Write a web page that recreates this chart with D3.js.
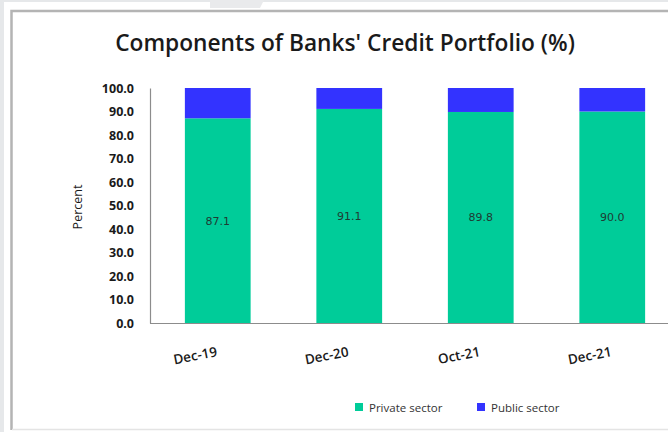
<!DOCTYPE html>
<html>
<head>
<meta charset="utf-8">
<script src="https://cdn.jsdelivr.net/npm/d3@7"></script>
<style>
  html, body { margin: 0; padding: 0; background: #e6e8ea; }
  svg { display: block; }
</style>
</head>
<body>
<svg id="chart" width="668" height="432"></svg>
<script>
// Share of banks' credit by ownership (%)
const periods = ["Dec-19", "Dec-20", "Oct-21", "Dec-21"];
const privateSector = [87.1, 91.1, 89.8, 90.0];
const publicSector = [12.9, 8.9, 10.2, 10.0];
const yTicks = [0, 10, 20, 30, 40, 50, 60, 70, 80, 90, 100];
const seriesNames = ["Private sector", "Public sector"];
const seriesColors = ["#00cc99", "#3333ff"];

const svg = d3.select("#chart");
const W = 668, H = 432;
const font = "'Open Sans', 'Liberation Sans', sans-serif";

// page backdrop and framed panel
svg.append("rect").attr("x", 4).attr("y", 2).attr("width", W).attr("height", H).attr("fill", "#ffffff");
svg.append("path")
  .attr("d", `M${W},11 L11.5,11 L11.5,${H - 2}`)
  .attr("fill", "none").attr("stroke", "#b4b4b4").attr("stroke-width", 2.5);
svg.append("line").attr("x1", 12).attr("x2", W).attr("y1", H - 2.5).attr("y2", H - 2.5)
  .attr("stroke", "#e4e4e4").attr("stroke-width", 1.5);
svg.append("path").attr("d", "M210,0 L264,0 L260,8 L210,8 Z").attr("fill", "#e9eaec");

const margin = { left: 150, top: 88, bottom: 323 };
const x = d3.scaleBand().domain(periods).range([152, 152 + 4 * 131.5]).paddingInner(0.5).paddingOuter(0.25);
const y = d3.scaleLinear().domain([0, 100]).range([margin.bottom, margin.top]);

// title
const title = svg.append("text")
  .attr("x", 345).attr("y", 51)
  .attr("text-anchor", "middle")
  .attr("font-family", font).attr("font-weight", 600).attr("font-size", 19)
  .attr("fill", "#1a1a1a")
  .text("Components of Banks' Credit Portfolio (%)");
const tl = title.node().getComputedTextLength();
if (tl > 0) title.attr("font-size", 19 * 460 / tl);

// stacked bars
const rows = periods.map((p, i) => ({ period: p, private: privateSector[i], public: publicSector[i] }));
const stack = d3.stack().keys(["private", "public"])(rows);
svg.append("g").selectAll("g").data(stack).join("g")
  .attr("fill", (d, i) => seriesColors[i])
  .selectAll("rect").data(d => d).join("rect")
  .attr("x", d => x(d.data.period))
  .attr("width", x.bandwidth())
  .attr("y", d => y(d[1]))
  .attr("height", d => y(d[0]) - y(d[1]));

// value labels on the private-sector segment
svg.append("g").selectAll("text").data(rows).join("text")
  .attr("x", d => x(d.period) + x.bandwidth() / 2)
  .attr("y", d => y(d.private / 2) + 4)
  .attr("text-anchor", "middle")
  .attr("font-family", "'DejaVu Sans', sans-serif").attr("font-size", 11)
  .attr("fill", "#1f3b33")
  .text(d => d.private.toFixed(1));

// y axis
const yAxis = svg.append("g").attr("transform", "translate(150,0)")
  .call(d3.axisLeft(y).tickValues(yTicks).tickFormat(d3.format(".1f")).tickSize(0).tickPadding(16));
yAxis.select(".domain").attr("stroke", "#8c8c8c").attr("stroke-width", 1.2);
yAxis.selectAll("text").attr("font-family", font).attr("font-weight", "bold")
  .attr("font-size", 12.5).attr("fill", "#1a1a1a");

// x axis
const xAxis = svg.append("g").attr("transform", `translate(0,${margin.bottom})`)
  .call(d3.axisBottom(x).tickSize(0).tickPadding(0));
xAxis.select(".domain").attr("d", `M150,0.5H${W}`).attr("stroke", "#8c8c8c").attr("stroke-width", 1.2);
xAxis.selectAll("text")
  .attr("font-family", font).attr("font-weight", 600).attr("font-size", 13.5).attr("fill", "#1a1a1a")
  .attr("text-anchor", "end")
  .attr("dy", 0)
  .attr("transform", "translate(0,33) rotate(-11)");

// y axis title
svg.append("text")
  .attr("transform", "translate(82,207) rotate(-90)")
  .attr("text-anchor", "middle")
  .attr("font-family", font).attr("font-size", 12.5).attr("fill", "#1a1a1a")
  .text("Percent");

// legend
const legendX = [355, 477];
const legend = svg.append("g").selectAll("g").data(seriesNames).join("g")
  .attr("transform", (d, i) => `translate(${legendX[i]},403)`);
legend.append("rect").attr("width", 8).attr("height", 8).attr("fill", (d, i) => seriesColors[i]);
legend.append("text").attr("x", 14).attr("y", 8.5)
  .attr("font-family", font).attr("font-size", 11.5).attr("fill", "#333333")
  .text(d => d);
</script>
</body>
</html>
